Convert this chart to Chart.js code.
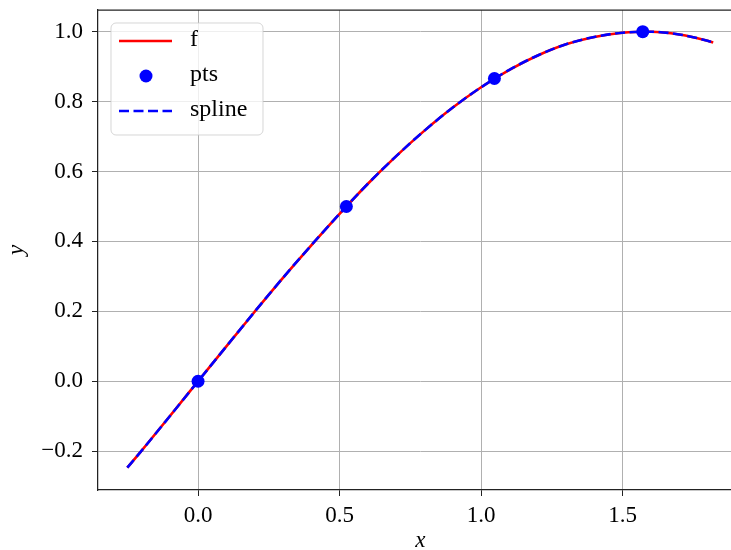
<!DOCTYPE html>
<html>
<head>
<meta charset="utf-8">
<script src="https://cdn.jsdelivr.net/npm/chart.js@4.4.1/dist/chart.umd.min.js"></script>
<style>
  html, body { margin: 0; background: #fff; overflow: hidden; width: 731px; height: 550px; }
  canvas { display: block; }
</style>
</head>
<body>
<canvas id="myChart" width="749" height="550"></canvas>
<script>
// values
const curveX = [-0.25, -0.2, -0.1, 0.0, 0.1, 0.2, 0.3, 0.4, 0.5, 0.6, 0.7, 0.8, 0.9,
                1.0, 1.1, 1.2, 1.3, 1.4, 1.5, 1.6, 1.7, 1.8, 1.82];
const fY = [-0.247, -0.199, -0.100, 0.0, 0.100, 0.199, 0.296, 0.389, 0.479, 0.565, 0.644,
            0.717, 0.783, 0.841, 0.891, 0.932, 0.964, 0.985, 0.997, 1.000, 0.992, 0.974, 0.969];
const splineY = [-0.247, -0.199, -0.100, 0.0, 0.100, 0.199, 0.296, 0.389, 0.479, 0.565, 0.644,
                 0.717, 0.783, 0.841, 0.891, 0.932, 0.964, 0.985, 0.997, 1.000, 0.992, 0.974, 0.969];
const ptsX = [0.0, 0.524, 1.047, 1.571];
const ptsY = [0.0, 0.5, 0.866, 1.0];

const xTicks = [0.0, 0.5, 1.0, 1.5];
const yTicks = [-0.2, 0.0, 0.2, 0.4, 0.6, 0.8, 1.0];

const FONT = "'Liberation Serif', 'DejaVu Serif', serif";

function toPoints(xs, ys) {
  return xs.map((x, i) => ({ x: x, y: ys[i] }));
}

// frame top line + legend box inside the axes
const framePlugin = {
  id: 'frame',
  afterDraw(chart) {
    const ctx = chart.ctx;
    const a = chart.chartArea;
    ctx.save();
    ctx.strokeStyle = '#222';
    ctx.lineWidth = 1.25;
    ctx.beginPath();
    ctx.moveTo(a.left, a.top);
    ctx.lineTo(a.right, a.top);
    ctx.stroke();

    // legend
    const bx = a.left + 13, by = a.top + 13, bw = 152, bh = 112, r = 5;
    ctx.beginPath();
    ctx.moveTo(bx + r, by);
    ctx.arcTo(bx + bw, by, bx + bw, by + bh, r);
    ctx.arcTo(bx + bw, by + bh, bx, by + bh, r);
    ctx.arcTo(bx, by + bh, bx, by, r);
    ctx.arcTo(bx, by, bx + bw, by, r);
    ctx.closePath();
    ctx.fillStyle = 'rgba(255,255,255,0.8)';
    ctx.fill();
    ctx.strokeStyle = 'rgba(204,204,204,0.8)';
    ctx.lineWidth = 1;
    ctx.stroke();

    ctx.font = '24px ' + FONT;
    ctx.textBaseline = 'middle';
    chart.data.datasets.forEach((ds, i) => {
      const cy = by + 18 + i * 35;
      if (ds.showLine) {
        ctx.beginPath();
        ctx.strokeStyle = ds.borderColor;
        ctx.lineWidth = ds.borderWidth;
        ctx.setLineDash(ds.borderDash || []);
        ctx.moveTo(bx + 8, cy);
        ctx.lineTo(bx + 61, cy);
        ctx.stroke();
        ctx.setLineDash([]);
      } else {
        ctx.beginPath();
        ctx.fillStyle = ds.backgroundColor;
        ctx.arc(bx + 35, cy, ds.pointRadius, 0, Math.PI * 2);
        ctx.fill();
      }
      ctx.fillStyle = '#000';
      ctx.fillText(ds.label, bx + 79, cy - 1);
    });
    ctx.restore();
  }
};

const config = {
  type: 'scatter',
  data: {
    datasets: [
      {
        label: 'f',
        data: toPoints(curveX, fY),
        showLine: true,
        borderColor: '#ff0000',
        borderWidth: 2.6,
        pointRadius: 0,
        cubicInterpolationMode: 'monotone',
        order: 2
      },
      {
        label: 'pts',
        data: toPoints(ptsX, ptsY),
        showLine: false,
        backgroundColor: '#0000ff',
        borderColor: '#0000ff',
        pointRadius: 6.5,
        pointBorderWidth: 0,
        order: 0
      },
      {
        label: 'spline',
        data: toPoints(curveX, splineY),
        showLine: true,
        borderColor: '#0000ff',
        borderWidth: 2.6,
        borderDash: [10, 4.5],
        pointRadius: 0,
        cubicInterpolationMode: 'monotone',
        order: 1
      }
    ]
  },
  options: {
    responsive: false,
    animation: false,
    devicePixelRatio: 1,
    layout: { padding: { top: 10, right: 0, left: 0, bottom: 0 } },
    plugins: {
      legend: { display: false },
      tooltip: { enabled: false }
    },
    scales: {
      x: {
        type: 'linear',
        min: -0.3535,
        max: 1.9235,
        afterBuildTicks: scale => { scale.ticks = xTicks.map(v => ({ value: v })); },
        afterFit: scale => {
          scale.height = 60;
          scale.paddingLeft = 0;
          scale.paddingRight = 0;
        },
        grid: { color: '#b0b0b0', lineWidth: 1, tickColor: '#222', tickLength: 6 },
        border: { color: '#222', width: 1.25 },
        ticks: {
          color: '#000',
          padding: 6,
          maxRotation: 0,
          font: { family: FONT, size: 23 },
          callback: v => v.toFixed(1)
        },
        title: {
          display: true,
          text: 'x',
          color: '#000',
          padding: { top: 0, bottom: 0 },
          font: { family: FONT, size: 23, style: 'italic', lineHeight: 0.8 }
        }
      },
      y: {
        type: 'linear',
        min: -0.311,
        max: 1.062,
        afterBuildTicks: scale => { scale.ticks = yTicks.map(v => ({ value: v })); },
        afterFit: scale => {
          scale.width = 98;
          scale.paddingTop = 0;
          scale.paddingBottom = 0;
        },
        grid: { color: '#b0b0b0', lineWidth: 1, tickColor: '#222', tickLength: 6 },
        border: { color: '#222', width: 1.25 },
        ticks: {
          color: '#000',
          padding: 9,
          font: { family: FONT, size: 23 },
          callback: v => (v < 0 ? '\u2212' + Math.abs(v).toFixed(1) : v.toFixed(1))
        },
        title: {
          display: true,
          text: 'y',
          color: '#000',
          padding: { top: 8, bottom: 0 },
          font: { family: FONT, size: 23, style: 'italic', lineHeight: 0.8 }
        }
      }
    }
  },
  plugins: [framePlugin]
};

const myChart = new Chart(document.getElementById('myChart'), config);
</script>
</body>
</html>
